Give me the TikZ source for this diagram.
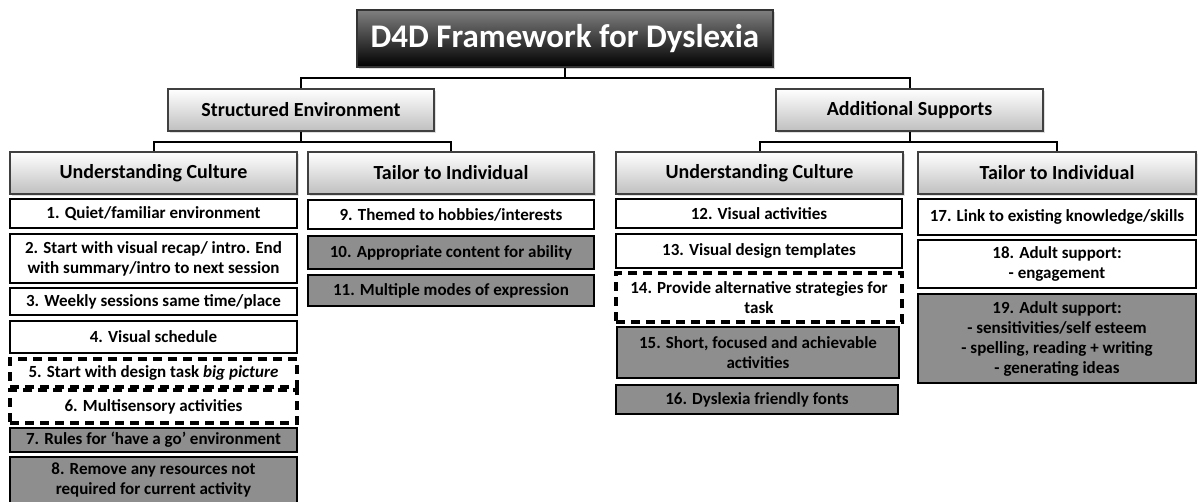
\documentclass[tikz,border=0pt]{standalone}
\usepackage{fontspec}
\setmainfont{Carlito}
\usetikzlibrary{shadows}
\definecolor{itemgray}{HTML}{8E8E8E}
\tikzset{
 base/.style={rectangle, align=center, inner sep=1pt, font=\bfseries\fontsize{8.5}{10}\selectfont},
 titlebox/.style={draw=black!80, line width=1pt, top color=black!50, bottom color=black, text=white,
   font=\bfseries\fontsize{16.5}{20}\selectfont, inner sep=1pt, minimum width=208pt, minimum height=28.5pt,
   drop shadow={opacity=0.3, shadow xshift=1pt, shadow yshift=-1pt}},
 head/.style={draw=black!75, line width=0.8pt, top color=white, bottom color=black!25,
   font=\bfseries\fontsize{10}{12}\selectfont, minimum height=21pt,
   drop shadow={opacity=0.25, shadow xshift=1pt, shadow yshift=-1pt}},
 wbox/.style={base, draw=black, line width=1.4pt, fill=white},
 gbox/.style={base, draw=black, line width=1.4pt, fill=itemgray},
 dbox/.style={base, draw=black, line width=1.6pt, dash pattern=on 4.5pt off 3pt, fill=white},
 conn/.style={draw=black, line width=1pt},
}
\begin{document}
\begin{tikzpicture}[x=0.5pt,y=-0.5pt]
\useasboundingbox (0,0) rectangle (1198,502);
% title and level 2
\node[titlebox] (title) at (565,38.5) {D4D Framework for Dyslexia};
\node[head, minimum width=133pt] (se) at (301,110) {Structured Environment};
\node[head, minimum width=133.5pt] (as) at (909.5,110) {Additional Supports};
% level 3
\node[head, minimum width=143.5pt] (ucl) at (153.5,173) {Understanding Culture};
\node[head, minimum width=143pt] (til) at (451,173) {Tailor to Individual};
\node[head, minimum width=143.5pt] (ucr) at (759.5,173) {Understanding Culture};
\node[head, minimum width=139pt] (tir) at (1057,173) {Tailor to Individual};
% left understanding culture
\node[wbox, minimum width=143.5pt, minimum height=14.5pt] (i1) at (153.5,213.5) {1. Quiet/familiar environment};
\node[wbox, minimum width=143.5pt, minimum height=24.5pt] (i2) at (153.5,258.5) {2. Start with visual recap/ intro. End\\with summary/intro to next session};
\node[wbox, minimum width=143.5pt, minimum height=13.5pt] (i3) at (153.5,301.5) {3. Weekly sessions same time/place};
\node[wbox, minimum width=143.5pt, minimum height=16pt] (i4) at (153.5,337) {4. Visual schedule};
\node[dbox, minimum width=143.5pt, minimum height=14pt] (i5) at (153.5,373) {5. Start with design task \textit{big picture}};
\node[dbox, minimum width=143.5pt, minimum height=16.5pt] (i6) at (153.5,406.5) {6. Multisensory activities};
\node[gbox, minimum width=143.5pt, minimum height=12pt] (i7) at (153.5,440) {7. Rules for ‘have a go’ environment};
\node[gbox, minimum width=143.5pt, minimum height=23pt] (i8) at (153.5,480) {8. Remove any resources not\\required for current activity};
% left tailor
\node[wbox, minimum width=143pt, minimum height=14.5pt] (i9) at (451,214.5) {9. Themed to hobbies/interests};
\node[gbox, minimum width=143pt, minimum height=16.5pt] (i10) at (451,252.5) {10. Appropriate content for ability};
\node[gbox, minimum width=143pt, minimum height=15.5pt] (i11) at (451,290.5) {11. Multiple modes of expression};
% right understanding culture
\node[wbox, minimum width=143pt, minimum height=14.5pt] (i12) at (759,213.5) {12. Visual activities};
\node[wbox, minimum width=143pt, minimum height=17pt] (i13) at (759,251) {13. Visual design templates};
\node[dbox, minimum width=143pt, minimum height=24.5pt] (i14) at (759,297.5) {14. Provide alternative strategies for\\task};
\node[gbox, minimum width=141pt, minimum height=25.5pt] (i15) at (758,352.5) {15. Short, focused and achievable\\activities};
\node[gbox, minimum width=141pt, minimum height=14.5pt] (i16) at (757,399.5) {16. Dyslexia friendly fonts};
% right tailor
\node[wbox, minimum width=139pt, minimum height=18pt] (i17) at (1057,217) {17. Link to existing knowledge/skills};
\node[wbox, minimum width=139pt, minimum height=24pt] (i18) at (1057,264) {18. Adult support:\\- engagement};
\node[gbox, minimum width=139pt, minimum height=44.5pt] (i19) at (1057,338.5) {19. Adult support:\\- sensitivities/self esteem\\- spelling, reading + writing\\- generating ideas};
% connectors
\draw[conn] (title.south) -- ++(0,10.5) -| (se.north);
\draw[conn] (title.south) -- ++(0,10.5) -| (as.north);
\draw[conn] (se.south) -- ++(0,10) -| (ucl.north);
\draw[conn] (se.south) -- ++(0,10) -| (til.north);
\draw[conn] (as.south) -- ++(0,10) -| (ucr.north);
\draw[conn] (as.south) -- ++(0,10) -| (tir.north);
\end{tikzpicture}
\end{document}
